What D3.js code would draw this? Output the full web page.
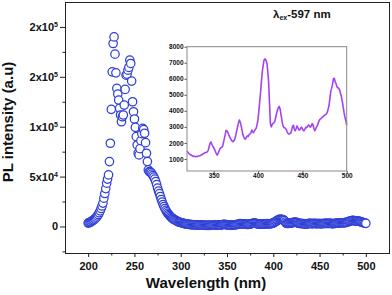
<!DOCTYPE html>
<html>
<head>
<meta charset="utf-8">
<script src="https://cdn.jsdelivr.net/npm/d3@7"></script>
<style>
  body { margin: 0; background: #fff; }
  svg { display: block; font-family: "Liberation Sans", Arial, sans-serif; }
</style>
</head>
<body>
<script>
// PL spectrum, one reading per nm starting at 200 nm
const startNm = 200;
const intensity = [
  3400, 3700, 4200, 4700, 5300, 5900, 6600, 7400, 8300, 9300,            // 200
  10600, 12000, 13700, 15700, 18000, 20500, 23400, 28400, 33000, 38000,  // 210
  43400, 47500, 51700, 65000, 83400, 117400, 155000, 183400, 190000, 172700, // 220
  154000, 138400, 132700, 126700, 118400, 111700, 105000, 110000, 111700, 121700, // 230
  137400, 151700, 152700, 156700, 159400, 166700, 163400, 145700, 125000, 115000, // 240
  107700, 99400, 90000, 81700, 73400, 71700, 78000, 86000, 93000, 98400, // 250
  97000, 93400, 84000, 73400, 65000, 56700, 55000, 54500, 54000, 52500,  // 260
  51000, 49500, 47500, 45000, 42000, 38500, 35500, 33000, 30000, 27000,  // 270
  24500, 22000, 20000, 18000, 16200, 14600, 13200, 12000, 10900, 9900,   // 280
  9000, 8200, 7500, 6900, 6300, 5800, 5300, 4900, 4500, 4200,            // 290
  4000, 3700, 3400, 3150, 2900, 2700, 2500, 2350, 2200, 2050,            // 300
  1950, 1850, 1780, 1720, 1680, 1640, 1600, 1570, 1540, 1520,            // 310
  1500, 1420, 1350, 1300, 1260, 1230, 1200, 1160, 1180, 1150,            // 320
  1140, 1170, 1150, 1180, 1200, 1220, 1250, 1280, 1320, 1340,            // 330
  1380, 1400, 1420, 1450, 1560, 1780, 1980, 2060, 1920, 1800,            // 340
  1720, 1600, 1480, 1330, 1240, 1330, 1480, 1620, 1700, 1720,            // 350
  1780, 2000, 2250, 2500, 2780, 2760, 2660, 2520, 2390, 2280,            // 360
  2180, 2100, 2080, 2150, 2250, 2480, 2750, 3000, 3250, 3430,            // 370
  3300, 3080, 2800, 2520, 2380, 2260, 2240, 2360, 2440, 2400,            // 380
  2520, 2560, 2620, 2800, 2700, 2640, 2750, 2850, 2920, 3150,            // 390
  3450, 4000, 4600, 5200, 5900, 6500, 6900, 7200, 7250, 7150,            // 400
  7000, 6500, 5800, 4500, 3200, 3000, 3150, 3220, 3250, 3350,            // 410
  3600, 3850, 4050, 4200, 4280, 4100, 3750, 3400, 3100, 2980,            // 420
  2950, 2900, 2820, 2680, 2580, 2550, 2580, 2620, 2800, 3050,            // 430
  3100, 2850, 2760, 2900, 3060, 2950, 2820, 2800, 2900, 2980,            // 440
  2900, 2780, 2760, 2880, 2980, 2950, 3050, 3120, 3050, 2980,            // 450
  3050, 3200, 3150, 2900, 2760, 2880, 3000, 3080, 3250, 3400,            // 460
  3480, 3520, 3580, 3620, 3680, 3720, 3760, 3800, 3900, 4100,            // 470
  4300, 4750, 5200, 5400, 5650, 6000, 6030, 5800, 5700, 5500,            // 480
  5450, 5400, 5300, 5100, 4900, 4600, 4250, 3900, 3600, 3400,            // 490
  3120                                                                   // 500
];

const xTicks = [200, 250, 300, 350, 400, 450, 500];
const xMinorTicks = [225, 275, 325, 375, 425, 475];
const yTicks = [0, 50000, 100000, 150000, 200000];
const yTickLabels = [["0", ""], ["5x10", "4"], ["1x10", "5"], ["2x10", "5"], ["2x10", "5"]];
const yMinorTicks = [-25000, 25000, 75000, 125000, 175000];

// inset shows the same spectrum from 320 nm on
const insetStartNm = 320;
const insetXTicks = [350, 400, 450, 500];
const insetYTicks = [1000, 2000, 3000, 4000, 5000, 6000, 7000, 8000];

const W = 392, H = 295;

const svg = d3.select('body').append('svg')
  .attr('width', W)
  .attr('height', H);

const x = d3.scaleLinear().domain([175, 525]).range([65, 389]);
const y = d3.scaleLinear().domain([-26600, 225000]).range([253, 2]);

const points = intensity.map((v, i) => ({ nm: startNm + i, v }));

// axes
const xAxis = svg.append('g')
  .attr('transform', 'translate(0,253)')
  .call(d3.axisBottom(x).tickValues(xTicks).tickSize(4).tickSizeOuter(0).tickPadding(5).tickFormat(d3.format('d')));
svg.append('g')
  .attr('transform', 'translate(0,253)')
  .call(d3.axisBottom(x).tickValues(xMinorTicks).tickSize(2.5).tickSizeOuter(0).tickFormat(''));

const yAxis = svg.append('g')
  .attr('transform', 'translate(65,0)')
  .call(d3.axisLeft(y).tickValues(yTicks).tickSize(5).tickSizeOuter(0).tickPadding(2));
svg.append('g')
  .attr('transform', 'translate(65,0)')
  .call(d3.axisLeft(y).tickValues(yMinorTicks).tickSize(2.5).tickSizeOuter(0).tickFormat(''));

svg.selectAll('.domain').remove();
svg.selectAll('.tick line').attr('stroke', '#222');

xAxis.selectAll('text')
  .attr('font-size', 11).attr('font-weight', 'bold').attr('fill', '#111')
  .attr('font-family', '"Liberation Sans", Arial, sans-serif');

// y labels with superscript exponent
yAxis.selectAll('.tick text').each(function (d, i) {
  const t = d3.select(this).text('')
    .attr('font-size', 11).attr('font-weight', 'bold').attr('fill', '#111')
    .attr('font-family', '"Liberation Sans", Arial, sans-serif');
  const [base, exp] = yTickLabels[i];
  t.append('tspan').text(base);
  if (exp) t.append('tspan').attr('font-size', 7).attr('dy', '-0.55em').text(exp);
});

// frame
svg.append('rect')
  .attr('x', 65).attr('y', 2)
  .attr('width', 324).attr('height', 251)
  .attr('fill', 'none').attr('stroke', '#222').attr('stroke-width', 1)
  .attr('shape-rendering', 'crispEdges');

// scatter
svg.append('g')
  .selectAll('circle')
  .data(points)
  .join('circle')
  .attr('cx', d => x(d.nm))
  .attr('cy', d => y(d.v))
  .attr('r', 4.2)
  .attr('fill', '#fff')
  .attr('stroke', '#2f3fd6')
  .attr('stroke-width', 1.25);

// axis titles
svg.append('text')
  .attr('x', 206).attr('y', 288)
  .attr('text-anchor', 'middle')
  .attr('font-size', 15).attr('font-weight', 'bold').attr('fill', '#111')
  .text('Wavelength (nm)');

svg.append('text')
  .attr('transform', 'translate(13,122) rotate(-90)')
  .attr('text-anchor', 'middle')
  .attr('font-size', 15).attr('font-weight', 'bold').attr('fill', '#111')
  .text('PL intensity (a.u)');

// excitation label
const title = svg.append('text')
  .attr('x', 273).attr('y', 17.5)
  .attr('font-size', 11.5).attr('font-weight', 'bold').attr('fill', '#111');
title.append('tspan').text('λ');
title.append('tspan').attr('font-size', 7).attr('dy', 2.5).text('ex');
title.append('tspan').attr('dy', -2.5).text('-597 nm');

// ── inset ──
const ix = d3.scaleLinear().domain([320, 500]).range([187, 346.7]);
const iy = d3.scaleLinear().domain([250, 8000]).range([171, 46.7]);
const inset = svg.append('g');

inset.append('rect')
  .attr('x', 187).attr('y', 46.7)
  .attr('width', 159.7).attr('height', 124.3)
  .attr('fill', '#fff');

inset.append('g')
  .attr('transform', 'translate(0,171)')
  .call(d3.axisBottom(ix).tickValues(insetXTicks).tickSize(2).tickSizeOuter(0).tickPadding(0).tickFormat(d3.format('d')));
inset.append('g')
  .attr('transform', 'translate(187,0)')
  .call(d3.axisLeft(iy).tickValues(insetYTicks).tickSize(2.5).tickSizeOuter(0).tickPadding(1).tickFormat(d3.format('d')));
inset.selectAll('.domain').remove();
inset.selectAll('.tick line').attr('stroke', '#555');
inset.selectAll('.tick text')
  .attr('font-size', 6.5).attr('font-weight', 'bold').attr('fill', '#111')
  .attr('font-family', '"Liberation Sans", Arial, sans-serif');

inset.append('path')
  .datum(points.filter(p => p.nm >= insetStartNm))
  .attr('fill', 'none')
  .attr('stroke', '#a443f2')
  .attr('stroke-width', 1.6)
  .attr('stroke-linejoin', 'round')
  .attr('d', d3.line().x(d => ix(d.nm)).y(d => iy(d.v)));

inset.append('rect')
  .attr('x', 187).attr('y', 46.7)
  .attr('width', 159.7).attr('height', 124.3)
  .attr('fill', 'none').attr('stroke', '#888').attr('stroke-width', 1);
</script>
</body>
</html>
